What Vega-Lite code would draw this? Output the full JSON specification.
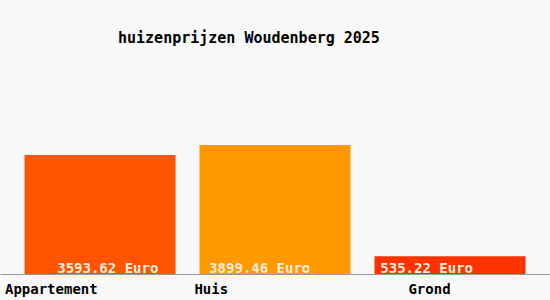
{
  "$schema": "https://vega.github.io/schema/vega-lite/v6.json",
  "autosize": "none",
  "width": 550,
  "height": 214,
  "padding": {"left": 0, "top": 60, "right": 0, "bottom": 26},
  "background": "#f8f8f8",
  "view": {"stroke": null},
  "title": {
    "text": "huizenprijzen Woudenberg 2025",
    "anchor": "start",
    "frame": "group",
    "dx": 118,
    "offset": 2,
    "baseline": "alphabetic",
    "font": "DejaVu Sans Mono",
    "fontSize": 15,
    "fontWeight": "bold",
    "color": "#000000"
  },
  "data": {
    "values": [
      {"type": "Appartement", "price": 3593.62, "label": "3593.62 Euro"},
      {"type": "Huis", "price": 3899.46, "label": "3899.46 Euro"},
      {"type": "Grond", "price": 535.22, "label": "535.22 Euro"}
    ]
  },
  "encoding": {
    "x": {
      "field": "type",
      "type": "nominal",
      "sort": null,
      "scale": {"paddingInner": 0.137, "paddingOuter": 0.14},
      "axis": {
        "title": null,
        "labelAngle": 0,
        "ticks": false,
        "tickSize": 0,
        "labelPadding": 19,
        "labelBaseline": "alphabetic",
        "labelFont": "DejaVu Sans Mono",
        "labelFontSize": 14,
        "labelFontWeight": "bold",
        "labelColor": "#000000",
        "domainColor": "#999999",
        "domainWidth": 1,
        "grid": false,
        "labelOffset": {"expr": "datum.value == 'Appartement' ? -48.7 : datum.value == 'Huis' ? -63.7 : -20.5"}
      }
    },
    "y": {
      "field": "price",
      "type": "quantitative",
      "scale": {"domain": [0, 6469], "nice": false},
      "axis": null
    }
  },
  "layer": [
    {
      "mark": {"type": "bar"},
      "encoding": {
        "color": {
          "field": "type",
          "type": "nominal",
          "scale": {"domain": ["Appartement", "Huis", "Grond"], "range": ["#ff5500", "#ff9900", "#ff3300"]},
          "legend": null
        }
      }
    },
    {
      "mark": {
        "type": "text",
        "font": "DejaVu Sans Mono",
        "fontSize": 14,
        "fontWeight": "bold",
        "baseline": "alphabetic",
        "align": "center",
        "dy": -1.5,
        "color": "#ffeedd",
        "dx": {"expr": "datum.type == 'Appartement' ? 7.8 : datum.type == 'Huis' ? -15.3 : -23.3"}
      },
      "encoding": {
        "y": {"datum": 0},
        "text": {"field": "label"}
      }
    }
  ]
}
